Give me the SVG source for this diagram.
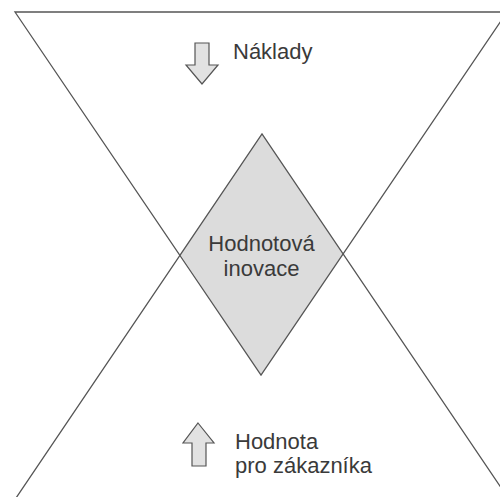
<svg xmlns="http://www.w3.org/2000/svg" width="500" height="497" viewBox="0 0 500 497">
<style>
.ln{fill:none;stroke:#555;stroke-width:1.3;stroke-linejoin:miter}
.arr{fill:#e2e2e2;stroke:#555;stroke-width:1.2;stroke-linejoin:miter}
.t{font-family:"Liberation Sans",Arial,sans-serif;font-size:22px;fill:#3a3a3a}
</style>
<rect width="500" height="497" fill="#ffffff"/>
<g id="value-innovation">
<polygon points="262,134 343,254 261,375 180,254" fill="#dcdcdc" stroke="none"/>
<text class="t" x="261.5" y="251" text-anchor="middle">Hodnotová</text>
<text class="t" x="261.5" y="276" text-anchor="middle">inovace</text>
</g>
<g id="connectors">
<polyline class="ln" points="507,12 15,12 261,375 507,12"/>
<polyline class="ln" points="16,498 262,134 508,498"/>
</g>
<g id="costs">
<polygon class="arr" points="195,43 209,43 209,65 218,65 202,84 186,65 195,65"/>
<text class="t" x="233" y="59">Náklady</text>
</g>
<g id="customer-value">
<polygon class="arr" points="198,423 214,443 206,443 206,466 192,466 192,443 183,443"/>
<text class="t" x="235" y="449">Hodnota</text>
<text class="t" x="235" y="473">pro zákazníka</text>
</g>
</svg>
